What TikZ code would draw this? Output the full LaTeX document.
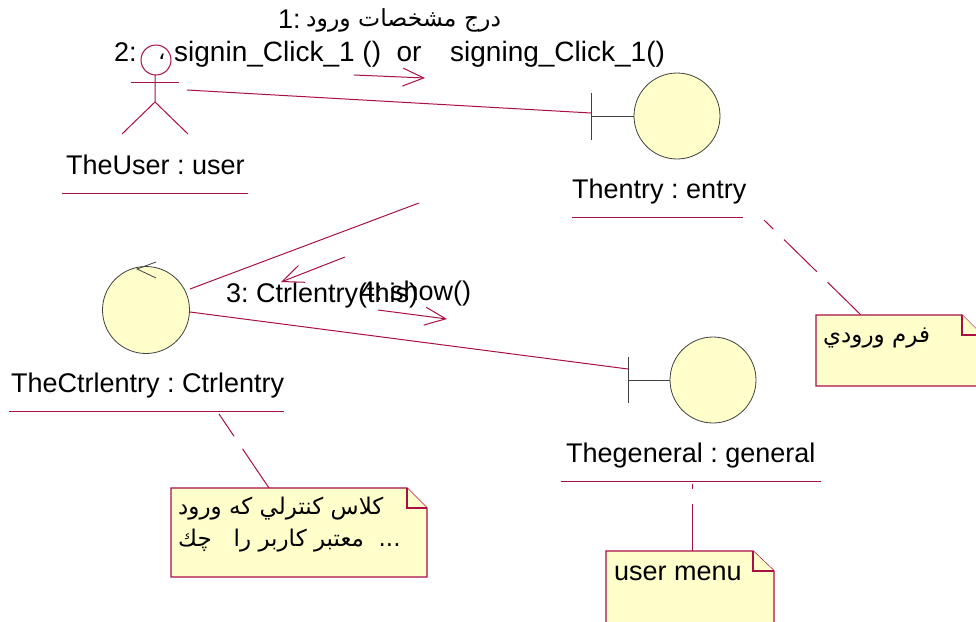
\documentclass[tikz,border=0pt]{standalone}
\usepackage{fontspec}
\setmainfont{Liberation Sans}
\newfontfamily\arabicfont[Script=Arabic]{DejaVu Sans}
\TeXXeTstate=1
\frenchspacing
\usetikzlibrary{calc}
\usetikzlibrary{arrows.meta}
\definecolor{mylink}{rgb}{0.66,0.06,0.28}
\definecolor{myfill}{rgb}{1.0,1.0,0.8}
\definecolor{myedge}{rgb}{0.25,0.25,0.25}
\tikzset{
  link/.style={draw=mylink,line width=1pt},
  message/.style={link,->},
  notebox/.style={draw=mylink,fill=myfill,line width=1.3pt,line join=miter},
  objcircle/.style={draw=myedge,fill=myfill,line width=0.8pt},
  objmark/.style={draw=myedge,line width=0.8pt},
  txt/.style={anchor=base west,inner sep=0pt,font=\fontsize{27}{32}\selectfont},
  txtwide/.style={txt,font=\fontsize{28}{32}\selectfont},
  farsi/.style={anchor=base west,inner sep=0pt,font=\fontsize{23}{34}\selectfont\arabicfont},
}
\begin{document}
\begin{tikzpicture}[%
  >={Straight Barb[length=21pt,width=18pt]},
  x=1pt,y=-1pt,
]
  \useasboundingbox (0,0) rectangle (976,621);
  \clip (0,0) rectangle (976,621);

  % objects
  \coordinate (Uh) at (156,60);
  \coordinate (En) at (677,116);
  \coordinate (Ct) at (146,310);
  \coordinate (Ge) at (713,380);
  \coordinate (EnBar) at (591,116);
  \coordinate (GeBar) at (628,380);

  % connector ends
  \coordinate (a1) at (187,90);
  \coordinate (a2) at (591,113);
  \coordinate (b1) at (190,289);
  \coordinate (b2) at (419,203);
  \coordinate (c1) at (190,312);
  \coordinate (c2) at (628,369);
  \coordinate (n1) at (764,220);
  \coordinate (n2) at (861,315);
  \coordinate (n3) at (219,414);
  \coordinate (n4) at (269,488);
  \coordinate (n5) at (692,484);
  \coordinate (n6) at (692,551);

  % the user
  \draw[link] (Uh) circle (15);
  \draw[link] (155,75) -- (155,102) -- (122,134);
  \draw[link] (155,102) -- (188,134);
  \draw[link] (131,82) -- (179,82);

  % boundary and control circles
  \draw[objmark] (EnBar) ++(0,-23) -- ++(0,47);
  \draw[objmark] (EnBar) -- (En);
  \draw[objcircle] (En) circle (43);
  \draw[objmark] (GeBar) ++(0,-23) -- ++(0,46);
  \draw[objmark] (GeBar) -- (Ge);
  \draw[objcircle] (Ge) circle (43);
  \draw[objcircle] (Ct) circle (43.5);
  \draw[objmark] (156,262) -- (137,269) -- (156,278);

  % links
  \draw[link] (a1) -- (a2);
  \draw[link] (b1) -- (b2);
  \draw[link] (c1) -- (c2);
  \draw[link,dash pattern=on 13pt off 15pt on 46pt off 15pt on 50pt] (n1) -- (n2);
  \draw[link,dash pattern=on 27pt off 15pt on 60pt] (n3) -- (n4);
  \draw[link,dash pattern=on 5pt off 15pt on 50pt] (n5) -- (n6);

  % messages
  \coordinate (m1) at (354,75);
  \coordinate (m2) at (425,78);
  \coordinate (m3) at (345,257);
  \coordinate (m4) at (281,282);
  \coordinate (m5) at (378,310);
  \coordinate (m6) at (447,319);
  \draw[message] (m1) -- (m2);
  \draw[message] (m3) -- (m4);
  \draw[message] (m5) -- (m6);

  % notes
  \draw[notebox] (816,315) -- (962,315) -- (982,335) -- (982,386) -- (816,386) -- cycle;
  \draw[notebox] (962,315) -- (962,335) -- (982,335);
  \draw[notebox] (171,488) -- (407,488) -- (427,508) -- (427,577) -- (171,577) -- cycle;
  \draw[notebox] (407,488) -- (407,508) -- (427,508);
  \draw[notebox] (606,551) -- (753,551) -- (774,571) -- (774,640) -- (606,640) -- cycle;
  \draw[notebox] (753,551) -- (753,571) -- (774,571);

  % name lines
  \draw[link] (62,193) -- (248,193);
  \draw[link] (572,217) -- (743,217);
  \draw[link] (9,411) -- (284,411);
  \draw[link] (561,481) -- (821,481);

  % labels
  \node[txt] (lUser) at (66,174) {TheUser : user};
  \node[txt] (lEntry) at (572,198) {Thentry : entry};
  \node[txt] (lCtrl) at (11,392) {TheCtrlentry : Ctrlentry};
  \node[txt] (lGen) at (566,462) {Thegeneral : general};

  \node[txt] (msgOne) at (278,28) {1:};
  \node[farsi] (msgOneFa) at (306,27) {\fontsize{23.5}{34}\selectfont\beginR درج مشخصات ورود\endR};
  \node[txt] (msgTwo) at (114,61) {2:};
  \node[farsi] (msgComma) at (158,59) {\beginR،\endR};
  \node[txtwide] (msgTwoA) at (174,61) {signin\symbol{95}Click\symbol{95}1 ()\ \ or};
  \node[txtwide] (msgTwoB) at (450,61) {signing\symbol{95}Click\symbol{95}1()};
  \node[txt] (msgThree) at (226,302) {3: Ctrlentry(this)};
  \node[txt] (msgFour) at (360,300) {4: show()};

  \node[farsi] (noteEntry) at (823,342) {\beginR فرم ورودي\endR};
  \node[farsi] (noteCtrlA) at (178,514) {\beginR كلاس كنترلي كه ورود\endR};
  \node[farsi] (noteCtrlB) at (178,546) {\beginR ...\ \ معتبر كاربر را\ \ \ چك\endR};
  \node[txt] (noteGen) at (614,580) {user menu};
\end{tikzpicture}
\end{document}
